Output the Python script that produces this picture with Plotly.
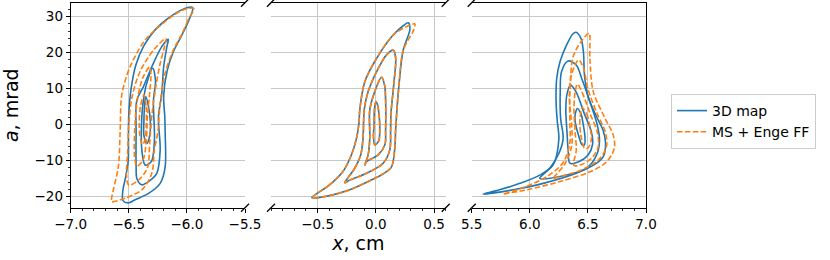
import plotly.graph_objects as go

# ---------------- data (x in cm, a in mrad) ----------------
# Panel 1 (x around -6.3)
P1_BLUE_A_X = [-5.95, -5.99, -6.05, -6.12, -6.17, -6.20, -6.19, -6.187, -6.187, -6.23, -6.33, -6.45, -6.50, -6.55, -6.55, -6.53, -6.505, -6.503, -6.50, -6.48, -6.44, -6.37, -6.27, -6.12, -6.00, -5.95]
P1_BLUE_A_Y = [32.5, 28.5, 24.5, 20.0, 15.0, 8.0, 2.0, -2.4, -11.7, -16.3, -19.1, -20.9, -21.7, -21.1, -18.0, -15.0, -10.0, -4.0, 3.0, 10.0, 16.5, 22.0, 26.5, 30.5, 32.5, 32.5]
P1_BLUE_B_X = [-6.16, -6.172, -6.20, -6.216, -6.245, -6.23, -6.259, -6.331, -6.388, -6.43, -6.437, -6.437, -6.431, -6.374, -6.302, -6.22, -6.16]
P1_BLUE_B_Y = [23.7, 21.7, 16.1, 8.7, 2.0, -7.0, -13.5, -15.8, -16.7, -15.0, -11.7, -2.4, 6.8, 10.6, 16.1, 21.5, 23.7]
P1_BLUE_C_X = [-6.293, -6.27, -6.288, -6.279, -6.30, -6.33, -6.36, -6.388, -6.388, -6.374, -6.35, -6.293]
P1_BLUE_C_Y = [15.7, 12.0, 6.8, -4.2, -9.8, -11.0, -11.2, -7.0, 2.2, 6.8, 11.0, 15.7]
P1_BLUE_D_X = [-6.354, -6.33, -6.315, -6.32, -6.345, -6.37, -6.37, -6.365, -6.354]
P1_BLUE_D_Y = [7.8, 5.0, 1.0, -3.0, -5.2, -3.0, 1.0, 5.0, 7.8]

P1_ORANGE_A_X = [-5.94, -5.99, -6.04, -6.12, -6.19, -6.23, -6.25, -6.28, -6.302, -6.388, -6.532, -6.647, -6.65, -6.633, -6.59, -6.575, -6.566, -6.55, -6.489, -6.36, -6.17, -6.04, -5.94]
P1_ORANGE_A_Y = [32.3, 29.1, 25.4, 20.5, 14.0, 6.0, -2.0, -7.0, -13.5, -18.1, -20.4, -21.4, -20.9, -18.1, -11.7, -2.4, 6.8, 10.0, 16.1, 23.5, 29.1, 31.8, 32.3]
P1_ORANGE_B_X = [-6.18, -6.19, -6.23, -6.27, -6.30, -6.32, -6.34, -6.42, -6.50, -6.52, -6.51, -6.50, -6.47, -6.40, -6.28, -6.18]
P1_ORANGE_B_Y = [24.0, 22.0, 17.0, 10.0, 3.0, -5.0, -12.0, -15.5, -16.8, -14.0, -8.0, 0.0, 8.0, 15.0, 21.0, 24.0]
P1_ORANGE_C_X = [-6.32, -6.31, -6.32, -6.34, -6.35, -6.38, -6.43, -6.45, -6.45, -6.43, -6.38, -6.32]
P1_ORANGE_C_Y = [16.0, 13.5, 9.0, 2.0, -5.0, -10.0, -11.5, -9.0, -2.0, 6.0, 13.0, 16.0]
P1_ORANGE_D_X = [-6.37, -6.35, -6.35, -6.36, -6.38, -6.40, -6.41, -6.40, -6.37]
P1_ORANGE_D_Y = [8.3, 5.0, 0.0, -4.0, -5.5, -4.0, 0.0, 5.0, 8.3]

# Panel 2 (x around 0)
P2_BLUE_A_X = [-0.55, -0.40, -0.282, -0.21, -0.166, -0.144, -0.138, -0.095, 0.006, 0.149, 0.235, 0.279, 0.293, 0.235, 0.20, 0.17, 0.164, 0.135, 0.07, -0.009, -0.224, -0.397, -0.55]
P2_BLUE_A_Y = [-20.3, -16.8, -13.0, -8.4, -3.8, 0.8, 4.1, 11.9, 18.4, 24.9, 27.5, 28.3, 26.5, 20.7, 11.5, -1.5, -6.1, -11.7, -13.5, -14.9, -18.1, -19.7, -20.3]
P2_BLUE_B_X = [-0.267, -0.181, -0.13, -0.11, -0.105, -0.10, -0.066, 0.006, 0.092, 0.149, 0.17, 0.155, 0.13, 0.127, 0.12, 0.063, -0.08, -0.224, -0.267]
P2_BLUE_B_Y = [-16.1, -12.1, -8.4, -3.8, 0.8, 4.1, 9.2, 14.7, 19.4, 20.7, 18.5, 11.5, 3.0, -1.5, -7.0, -10.7, -13.5, -15.4, -16.1]
P2_BLUE_C_X = [-0.095, -0.066, -0.052, -0.052, -0.009, 0.049, 0.075, 0.084, 0.084, 0.078, 0.02, -0.08, -0.095]
P2_BLUE_C_Y = [-11.2, -8.4, -3.8, 4.1, 9.2, 13.2, 11.0, 6.9, -1.5, -5.6, -8.4, -10.3, -11.2]
P2_BLUE_D_X = [-0.009, -0.02, -0.015, -0.012, 0.0, 0.015, 0.03, 0.034, 0.025, -0.009]
P2_BLUE_D_Y = [-5.6, -3.5, 0.0, 4.0, 6.4, 5.5, 2.0, -1.5, -4.5, -5.6]

P2_ORANGE_A_X = [-0.55, -0.40, -0.282, -0.21, -0.166, -0.144, -0.138, -0.095, 0.006, 0.149, 0.26, 0.336, 0.32, 0.235, 0.20, 0.17, 0.164, 0.135, 0.07, -0.009, -0.224, -0.397, -0.55]
P2_ORANGE_A_Y = [-20.3, -16.8, -13.0, -8.4, -3.8, 0.8, 4.1, 11.9, 18.4, 24.9, 27.2, 28.0, 26.0, 20.7, 11.5, -1.5, -6.1, -11.7, -13.5, -14.9, -18.1, -19.7, -20.3]
P2_ORANGE_B_X = [-0.267, -0.181, -0.13, -0.11, -0.105, -0.10, -0.066, 0.006, 0.092, 0.152, 0.172, 0.155, 0.13, 0.127, 0.12, 0.063, -0.08, -0.224, -0.267]
P2_ORANGE_B_Y = [-16.1, -12.1, -8.4, -3.8, 0.8, 4.1, 9.2, 14.7, 19.4, 20.7, 18.5, 11.5, 3.0, -1.5, -7.0, -10.7, -13.5, -15.4, -16.1]
P2_ORANGE_C_X = [-0.095, -0.066, -0.052, -0.052, -0.009, 0.05, 0.076, 0.084, 0.084, 0.078, 0.02, -0.08, -0.095]
P2_ORANGE_C_Y = [-11.2, -8.4, -3.8, 4.1, 9.2, 13.2, 11.0, 6.9, -1.5, -5.6, -8.4, -10.3, -11.2]
P2_ORANGE_D_X = [-0.009, -0.02, -0.015, -0.012, 0.0, 0.015, 0.03, 0.034, 0.025, -0.009]
P2_ORANGE_D_Y = [-5.6, -3.5, 0.0, 4.0, 6.4, 5.5, 2.0, -1.5, -4.5, -5.6]

# Panel 3 (x around 6.3)
P3_BLUE_A_X = [6.397, 6.44, 6.462, 6.47, 6.50, 6.57, 6.63, 6.652, 6.632, 6.575, 6.40, 6.115, 5.87, 5.68, 5.597, 5.74, 5.914, 6.086, 6.20, 6.25, 6.237, 6.226, 6.232, 6.26, 6.316, 6.37, 6.397]
P3_BLUE_A_Y = [25.7, 24.0, 20.0, 14.0, 8.0, 2.5, -1.5, -5.2, -8.9, -10.7, -13.5, -16.3, -18.0, -19.0, -19.3, -18.1, -16.3, -14.0, -11.2, -4.0, 0.8, 6.4, 12.9, 17.5, 22.1, 25.2, 25.7]
P3_BLUE_B_X = [6.33, 6.40, 6.446, 6.517, 6.58, 6.60, 6.575, 6.489, 6.259, 6.086, 6.172, 6.25, 6.287, 6.265, 6.262, 6.273, 6.33]
P3_BLUE_B_Y = [17.7, 16.6, 12.9, 6.4, 0.0, -4.3, -8.4, -12.1, -14.4, -14.9, -12.1, -8.0, -3.8, 1.8, 9.2, 14.7, 17.7]
P3_BLUE_C_X = [6.351, 6.40, 6.47, 6.53, 6.54, 6.50, 6.42, 6.345, 6.33, 6.32, 6.31, 6.32, 6.351]
P3_BLUE_C_Y = [11.0, 9.0, 3.0, -2.0, -5.5, -8.5, -10.3, -10.7, -7.0, -2.0, 4.0, 8.5, 11.0]
P3_BLUE_D_X = [6.408, 6.44, 6.46, 6.475, 6.47, 6.45, 6.42, 6.395, 6.388, 6.395, 6.408]
P3_BLUE_D_Y = [4.5, 3.0, 0.0, -3.5, -5.6, -5.6, -3.0, 0.0, 2.0, 3.5, 4.5]

P3_ORANGE_A_X = [6.511, 6.517, 6.546, 6.647, 6.718, 6.727, 6.661, 6.517, 6.259, 5.971, 5.80, 5.77, 5.942, 6.144, 6.287, 6.345, 6.345, 6.345, 6.373, 6.431, 6.49, 6.511]
P3_ORANGE_A_Y = [25.4, 18.4, 9.2, 1.8, -2.9, -6.6, -10.3, -13.1, -15.8, -18.1, -19.1, -19.3, -17.5, -14.5, -10.5, -5.0, 0.0, 9.2, 18.9, 22.6, 25.0, 25.4]
P3_ORANGE_B_X = [6.42, 6.46, 6.50, 6.58, 6.65, 6.66, 6.60, 6.45, 6.25, 6.20, 6.30, 6.36, 6.36, 6.34, 6.36, 6.42]
P3_ORANGE_B_Y = [18.0, 16.0, 10.0, 3.0, -2.0, -6.0, -9.5, -12.5, -14.5, -15.0, -11.0, -6.0, 0.0, 8.0, 14.0, 18.0]
P3_ORANGE_C_X = [6.41, 6.45, 6.52, 6.58, 6.59, 6.54, 6.45, 6.38, 6.40, 6.39, 6.38, 6.39, 6.41]
P3_ORANGE_C_Y = [11.3, 9.0, 3.0, -2.0, -6.0, -9.0, -11.0, -11.3, -7.0, -2.0, 4.0, 9.0, 11.3]
P3_ORANGE_D_X = [6.45, 6.49, 6.52, 6.53, 6.50, 6.47, 6.44, 6.43, 6.44, 6.45]
P3_ORANGE_D_Y = [4.8, 3.0, -1.0, -4.0, -6.5, -6.5, -3.0, 1.0, 3.5, 4.8]

X1_TICKS = [-7.0, -6.5, -6.0, -5.5]
X2_TICKS = [-0.5, 0.0, 0.5]
X3_TICKS = [5.5, 6.0, 6.5, 7.0]
Y_TICKS = [-20, -10, 0, 10, 20, 30]
SERIES_NAMES = ["3D map", "MS + Enge FF"]

# ---------------- figure ----------------
BLUE = "#1f77b4"
ORANGE = "#ff7f0e"
FONT = "DejaVu Sans"

panels = [
    ("x", "y", [(P1_BLUE_A_X, P1_BLUE_A_Y), (P1_BLUE_B_X, P1_BLUE_B_Y), (P1_BLUE_C_X, P1_BLUE_C_Y), (P1_BLUE_D_X, P1_BLUE_D_Y)],
     [(P1_ORANGE_A_X, P1_ORANGE_A_Y), (P1_ORANGE_B_X, P1_ORANGE_B_Y), (P1_ORANGE_C_X, P1_ORANGE_C_Y), (P1_ORANGE_D_X, P1_ORANGE_D_Y)]),
    ("x2", "y2", [(P2_BLUE_A_X, P2_BLUE_A_Y), (P2_BLUE_B_X, P2_BLUE_B_Y), (P2_BLUE_C_X, P2_BLUE_C_Y), (P2_BLUE_D_X, P2_BLUE_D_Y)],
     [(P2_ORANGE_A_X, P2_ORANGE_A_Y), (P2_ORANGE_B_X, P2_ORANGE_B_Y), (P2_ORANGE_C_X, P2_ORANGE_C_Y), (P2_ORANGE_D_X, P2_ORANGE_D_Y)]),
    ("x3", "y3", [(P3_BLUE_A_X, P3_BLUE_A_Y), (P3_BLUE_B_X, P3_BLUE_B_Y), (P3_BLUE_C_X, P3_BLUE_C_Y), (P3_BLUE_D_X, P3_BLUE_D_Y)],
     [(P3_ORANGE_A_X, P3_ORANGE_A_Y), (P3_ORANGE_B_X, P3_ORANGE_B_Y), (P3_ORANGE_C_X, P3_ORANGE_C_Y), (P3_ORANGE_D_X, P3_ORANGE_D_Y)]),
]

fig = go.Figure()
first_blue = True
first_orange = True
for xa, ya, blues, oranges in panels:
    for bx, by in blues:
        fig.add_trace(go.Scatter(x=bx, y=by, xaxis=xa, yaxis=ya, mode="lines",
                                 line=dict(color=BLUE, width=1.6, shape="spline", smoothing=0.9),
                                 name=SERIES_NAMES[0], legendgroup="b", showlegend=first_blue))
        first_blue = False
for xa, ya, blues, oranges in panels:
    for ox, oy in oranges:
        fig.add_trace(go.Scatter(x=ox, y=oy, xaxis=xa, yaxis=ya, mode="lines",
                                 line=dict(color=ORANGE, width=1.6, dash="5.5px,2.4px", shape="spline", smoothing=0.9),
                                 name=SERIES_NAMES[1], legendgroup="o", showlegend=first_orange))
        first_orange = False

W, H = 830, 260
PX_L = [70.7, 271.0, 471.7]
PX_R = [245.0, 445.7, 646.0]
PY_T, PY_B = 2.7, 207.7
ydom = [(H - PY_B) / H, (H - PY_T) / H]
YRANGE = [-23.06, 33.9]
XRANGES = [[-7.0, -5.5], [-0.9, 0.6], [5.5, 7.0]]
XTICKS = [X1_TICKS, X2_TICKS, X3_TICKS]

common_x = dict(showline=True, linecolor="black", linewidth=1, mirror=True, automargin=False,
                ticks="outside", ticklen=4, tickwidth=1, tickcolor="black",
                showgrid=True, gridcolor="#c8c8c8", gridwidth=1, zeroline=False,
                tickformat=".1f", tickfont=dict(family=FONT, size=13.5, color="black"),
                minor=dict(dtick=0.1, tick0=0, ticks="outside", ticklen=2, tickwidth=0.8,
                           tickcolor="black", showgrid=False))
for i in range(3):
    key = "xaxis" if i == 0 else f"xaxis{i+1}"
    d = dict(common_x)
    d.update(domain=[PX_L[i] / W, PX_R[i] / W], range=XRANGES[i], tickmode="array",
             tickvals=XTICKS[i], anchor="y" if i == 0 else f"y{i+1}")
    if i == 1:
        d.update(title=dict(text="<i>x</i>, cm", font=dict(family=FONT, size=19, color="black"), standoff=2))
    fig.layout[key] = d

common_y = dict(range=YRANGE, domain=ydom, tickmode="array", tickvals=Y_TICKS, automargin=False,
                showgrid=True, gridcolor="#c8c8c8", gridwidth=1, zeroline=False)
fig.layout["yaxis"] = dict(common_y, anchor="x", showline=True, linecolor="black", linewidth=1,
                           ticks="outside", ticklen=4, tickwidth=1, tickcolor="black",
                           tickfont=dict(family=FONT, size=13.5, color="black"),
                           minor=dict(dtick=2, tick0=0, ticks="outside", ticklen=2, tickwidth=0.8,
                                      tickcolor="black", showgrid=False),
                           title=dict(text="<i>a</i>, mrad", font=dict(family=FONT, size=19, color="black"), standoff=14))
fig.layout["yaxis2"] = dict(common_y, anchor="x2", matches="y", showticklabels=False, ticks="", showline=False)
fig.layout["yaxis3"] = dict(common_y, anchor="x3", matches="y", showticklabels=False, ticks="",
                            showline=True, linecolor="black", linewidth=1, side="right")

# broken-axis slash markers
shapes = []
dx, dy = 4.0 / W, 4.0 / H
for px in [PX_R[0], PX_L[1], PX_R[1], PX_L[2]]:
    for py in [PY_T, PY_B]:
        cx, cy = px / W, (H - py) / H
        shapes.append(dict(type="line", xref="paper", yref="paper",
                           x0=cx - dx, y0=cy - dy, x1=cx + dx, y1=cy + dy,
                           line=dict(color="black", width=1.3)))

fig.update_layout(
    width=W, height=H, autosize=False,
    margin=dict(l=0, r=0, t=0, b=0),
    paper_bgcolor="white", plot_bgcolor="white",
    font=dict(family=FONT, color="black"),
    shapes=shapes,
    hovermode=False,
    legend=dict(x=671 / W, y=(H - 94) / H, xanchor="left", yanchor="top",
                bgcolor="white", bordercolor="#cccccc", borderwidth=1,
                font=dict(family=FONT, size=14, color="black"),
                tracegroupgap=0),
)

fig.write_html("out.html", config={"displayModeBar": False, "staticPlot": True},
               post_script="document.body.style.margin='0';document.body.style.overflow='hidden';")
